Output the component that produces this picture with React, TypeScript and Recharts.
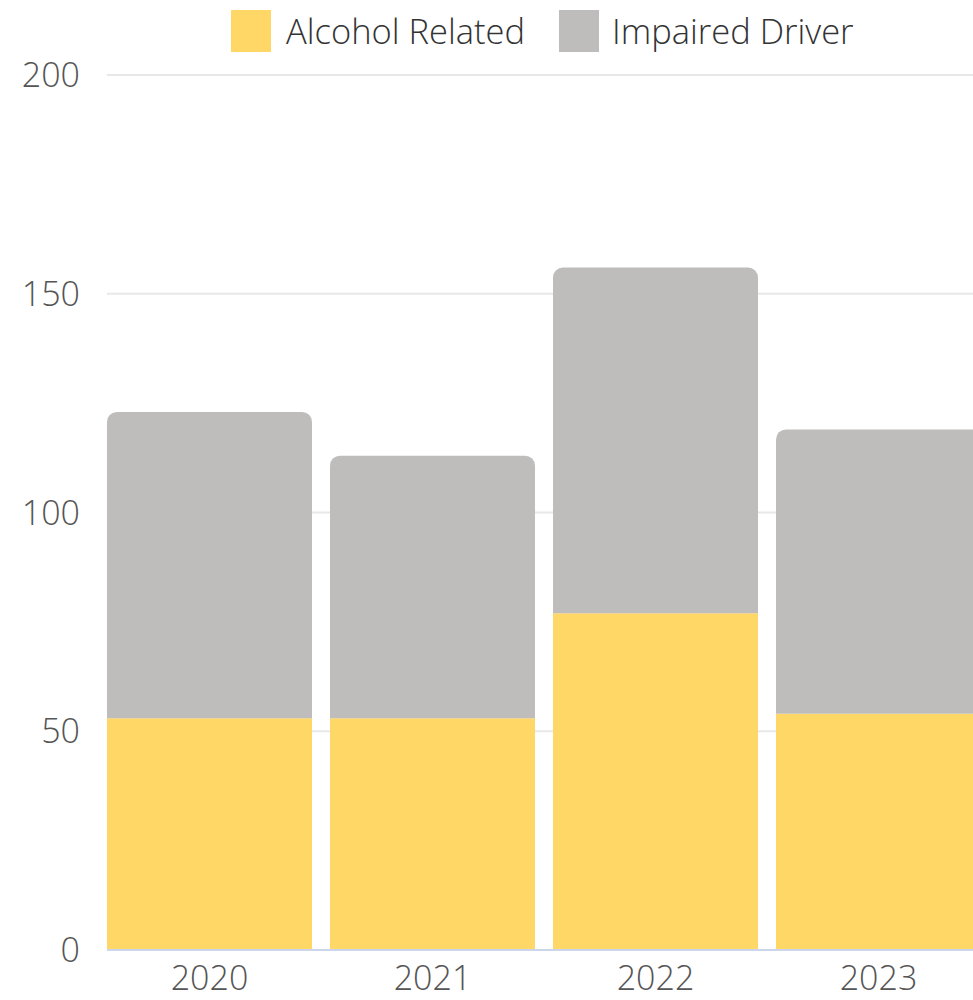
import React from "react";
import { BarChart, Bar, XAxis, YAxis, CartesianGrid, Legend } from "recharts";

const years = ["2020", "2021", "2022", "2023"];
const alcoholRelated = [53, 53, 77, 54];
const impairedDriver = [70, 60, 79, 65];
const yTicks = [0, 50, 100, 150, 200];

const data = years.map((year, i) => ({
  year,
  alcohol: alcoholRelated[i],
  impaired: impairedDriver[i],
}));

const FONT = "'Open Sans', sans-serif";

const renderLegend = (props: any) => {
  const { payload } = props;
  return (
    <div style={{ display: "flex", alignItems: "center", fontFamily: FONT }}>
      {(payload || []).map((entry: any, idx: number) => (
        <div
          key={idx}
          style={{ display: "flex", alignItems: "center", marginRight: idx === 0 ? 34 : 0 }}
        >
          <div style={{ width: 40, height: 42, background: entry.color, marginRight: idx === 0 ? 15 : 13 }} />
          <span style={{ fontSize: 34.5, fontWeight: 300, color: "#333333", lineHeight: "42px", whiteSpace: "nowrap" }}>{entry.value}</span>
        </div>
      ))}
    </div>
  );
};

export default function App() {
  return (
    <div style={{ position: "absolute", left: 0, top: 0, width: 973, height: 1000, overflow: "hidden", background: "#fff" }}>
      <BarChart
        width={1000}
        height={1000}
        data={data}
        margin={{ top: 75, right: 19, left: 0, bottom: 0 }}
      >
        <CartesianGrid vertical={false} stroke="#e8e8e8" strokeWidth={2} />
        <XAxis
          dataKey="year"
          padding={{ left: -9, right: -9 }}
          height={50}
          tickLine={false}
          tickSize={0}
          tickMargin={16}
          axisLine={{ stroke: "#ccd6eb", strokeWidth: 2 }}
          tick={{ fill: "#555555", fontSize: 34, fontWeight: 300, fontFamily: FONT }}
        />
        <YAxis
          domain={[0, 200]}
          ticks={yTicks}
          width={107}
          axisLine={false}
          tickLine={false}
          tickSize={0}
          tickMargin={27}
          tick={{ fill: "#555555", fontSize: 34, fontWeight: 300, fontFamily: FONT }}
        />
        <Legend
          verticalAlign="middle"
          align="center"
          layout="horizontal"
          content={renderLegend}
          wrapperStyle={{ top: 10, left: 231, width: "auto", height: 42 }}
        />
        <Bar
          dataKey="alcohol"
          name="Alcohol Related"
          stackId="a"
          fill="#fed766"
          barSize={205}
          isAnimationActive={false}
        />
        <Bar
          dataKey="impaired"
          name="Impaired Driver"
          stackId="a"
          fill="#bebdbc"
          barSize={205}
          radius={[10, 10, 0, 0]}
          isAnimationActive={false}
        />
      </BarChart>
    </div>
  );
}
